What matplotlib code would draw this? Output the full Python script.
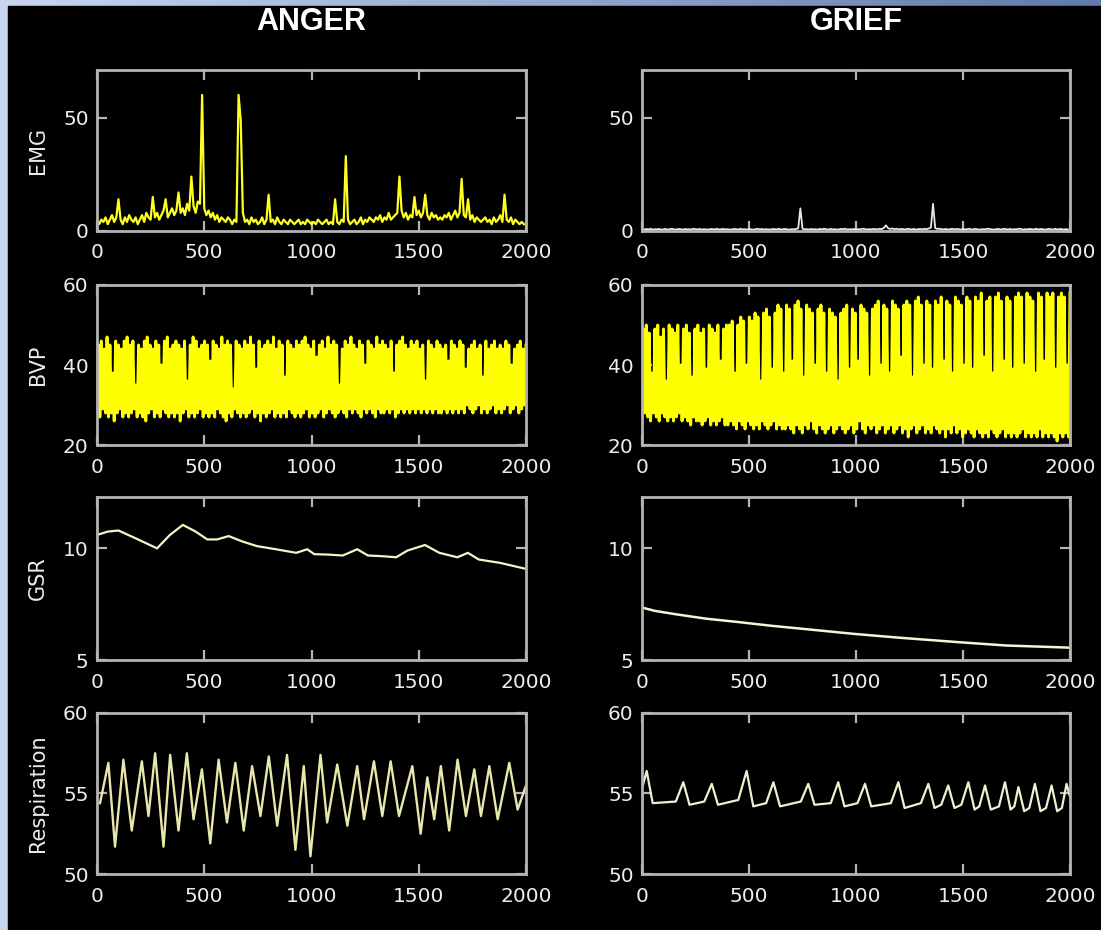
import numpy as np
import matplotlib
matplotlib.use('Agg')
import matplotlib.pyplot as plt
from matplotlib.patches import Rectangle

# ---------------- data ----------------
titles = ['ANGER', 'GRIEF']
signal_names = ['EMG', 'BVP', 'GSR', 'Respiration']
x_ticks = [0, 500, 1000, 1500, 2000]
y_limits = [(0, 71), (20, 60), (5, 12.3), (50, 60)]
y_ticks = [[0, 50], [20, 40, 60], [5, 10], [50, 55, 60]]

emg_step = 10
emg_anger = [4, 3, 5, 4, 6, 3, 5, 7, 4, 6, 14, 5, 3, 6, 4, 7, 5, 4, 6, 3,
             5, 7, 4, 8, 6, 5, 15, 6, 8, 5, 7, 9, 14, 6, 8, 10, 7, 9, 17, 8,
             10, 7, 12, 9, 24, 11, 8, 13, 12, 60, 10, 7, 9, 6, 8, 5, 7, 4, 6, 5,
             4, 6, 5, 3, 5, 4, 60, 49, 8, 4, 5, 3, 6, 4, 5, 3, 4, 6, 3, 5,
             16, 4, 5, 3, 6, 4, 3, 5, 4, 3, 5, 4, 3, 4, 5, 3, 4, 3, 5, 4,
             3, 4, 3, 5, 4, 3, 4, 5, 3, 4, 3, 14, 4, 3, 5, 4, 33, 5, 3, 4,
             5, 3, 4, 6, 3, 5, 4, 6, 5, 4, 6, 5, 7, 4, 6, 5, 8, 5, 6, 7,
             8, 24, 9, 6, 8, 5, 7, 6, 15, 7, 9, 6, 8, 16, 7, 5, 8, 6, 7, 5,
             6, 5, 7, 6, 8, 5, 7, 9, 6, 8, 23, 7, 6, 14, 5, 7, 4, 6, 5, 4,
             5, 6, 4, 5, 3, 6, 4, 5, 7, 4, 16, 5, 4, 6, 3, 5, 4, 3, 4, 3]
emg_grief = [0.8, 0.6, 0.9, 0.7, 1.0, 0.6, 0.8, 0.7, 0.9, 0.6,
             0.7, 0.9, 0.6, 0.8, 1.0, 0.7, 0.6, 0.9, 0.8, 0.6,
             0.9, 0.7, 0.8, 0.6, 1.0, 0.8, 0.7, 0.9, 0.6, 0.8,
             0.7, 0.6, 0.9, 0.8, 0.7, 1.0, 0.6, 0.8, 0.9, 0.7,
             0.8, 0.6, 0.7, 0.9, 0.8, 0.6, 1.0, 0.7, 0.8, 0.6,
             0.9, 0.7, 0.6, 0.8, 1.0, 0.7, 0.9, 0.6, 0.8, 0.7,
             0.6, 0.9, 0.8, 0.7, 1.0, 0.6, 0.8, 0.9, 0.7, 0.6,
             0.8, 0.7, 0.9, 1.2, 10.0, 1.0, 0.7, 0.8, 0.6, 0.9,
             0.7, 0.8, 0.6, 0.9, 0.7, 1.0, 0.8, 0.6, 0.9, 0.7,
             0.8, 0.6, 0.7, 0.9, 0.8, 1.0, 0.6, 0.8, 0.7, 0.9,
             0.6, 0.8, 0.7, 1.0, 0.9, 0.6, 0.8, 0.7, 0.9, 0.8,
             0.7, 1.0, 0.8, 1.4, 2.5, 1.2, 0.9, 1.1, 0.8, 1.0,
             0.7, 0.9, 0.8, 0.6, 1.0, 0.8, 0.7, 0.9, 0.6, 0.8,
             0.9, 0.7, 1.0, 0.8, 1.1, 1.5, 12.0, 1.3, 0.9, 1.0,
             0.8, 0.7, 0.9, 0.6, 0.8, 1.0, 0.7, 0.9, 0.8, 0.6,
             0.9, 0.7, 0.8, 1.0, 0.6, 0.8, 0.9, 0.7, 0.6, 0.8,
             0.7, 0.9, 1.0, 0.8, 0.6, 0.7, 0.9, 0.8, 0.6, 1.0,
             0.8, 0.7, 0.9, 0.6, 0.8, 0.7, 1.0, 0.9, 0.6, 0.8,
             0.7, 0.9, 0.8, 0.6, 1.0, 0.7, 0.8, 0.9, 0.6, 0.7,
             0.9, 0.8, 0.6, 1.0, 0.7, 0.8, 0.9, 0.6, 0.8, 0.7]

bvp_anger_peaks = [45, 46, 44, 47, 45, 38, 46, 45, 44, 46,
                   47, 45, 46, 35, 45, 44, 46, 47, 45, 44,
                   46, 45, 40, 46, 47, 44, 45, 46, 45, 44,
                   46, 36, 45, 47, 46, 44, 45, 46, 45, 41,
                   46, 45, 44, 47, 45, 46, 45, 34, 46, 45,
                   44, 46, 45, 47, 45, 39, 46, 44, 45, 46,
                   45, 47, 44, 46, 45, 37, 46, 45, 44, 46,
                   45, 46, 47, 45, 44, 46, 42, 45, 46, 44,
                   47, 45, 46, 45, 35, 44, 46, 45, 47, 45,
                   44, 46, 45, 40, 46, 45, 44, 47, 45, 46,
                   45, 44, 46, 38, 45, 46, 47, 45, 44, 46,
                   45, 46, 44, 45, 36, 46, 45, 44, 46, 45,
                   44, 45, 41, 46, 45, 44, 46, 45, 39, 44,
                   45, 46, 44, 45, 37, 46, 44, 45, 46, 44,
                   45, 44, 46, 45, 40, 44, 45, 46, 44, 45]
bvp_anger_troughs = [28, 27, 29, 28, 27, 28, 26, 28, 29, 27,
                     28, 27, 28, 29, 27, 28, 27, 26, 28, 29,
                     27, 28, 27, 29, 28, 27, 28, 27, 28, 26,
                     28, 29, 27, 28, 27, 28, 29, 27, 28, 27,
                     28, 27, 29, 28, 27, 26, 28, 27, 29, 28,
                     27, 28, 27, 28, 29, 27, 28, 26, 28, 27,
                     28, 29, 27, 28, 27, 28, 27, 29, 28, 27,
                     28, 27, 28, 29, 27, 28, 27, 28, 29, 27,
                     28, 29, 28, 27, 28, 29, 28, 27, 29, 28,
                     29, 28, 27, 29, 28, 29, 28, 27, 29, 28,
                     28, 29, 28, 29, 27, 28, 29, 28, 29, 28,
                     29, 28, 29, 28, 29, 28, 29, 28, 29, 28,
                     28, 29, 28, 29, 28, 29, 28, 29, 28, 30,
                     29, 28, 29, 30, 28, 29, 28, 29, 30, 28,
                     29, 28, 29, 30, 28, 29, 30, 28, 29, 30]
bvp_grief_peaks = [49, 50, 48, 38, 49, 50, 47, 49, 36, 50,
                   49, 48, 50, 40, 49, 50, 48, 37, 49, 50,
                   48, 49, 39, 50, 49, 48, 50, 41, 49, 50,
                   50, 51, 38, 50, 52, 51, 40, 52, 51, 53,
                   52, 36, 53, 54, 52, 39, 53, 55, 54, 38,
                   55, 54, 41, 55, 56, 54, 37, 55, 54, 53,
                   40, 54, 55, 53, 38, 54, 53, 52, 36, 53,
                   54, 55, 39, 54, 53, 41, 55, 54, 53, 37,
                   54, 55, 56, 40, 55, 54, 38, 56, 55, 54,
                   42, 55, 56, 55, 37, 56, 57, 55, 40, 56,
                   55, 39, 56, 55, 57, 41, 56, 55, 38, 57,
                   56, 55, 40, 57, 56, 39, 57, 56, 58, 42,
                   56, 57, 38, 57, 58, 56, 41, 57, 56, 39,
                   57, 58, 57, 40, 58, 57, 56, 38, 58, 57,
                   41, 58, 57, 58, 39, 57, 58, 57, 40, 58]
bvp_grief_troughs = [27, 28, 27, 26, 28, 27, 26, 28, 27, 26,
                     27, 26, 27, 28, 26, 27, 26, 25, 27, 26,
                     26, 25, 26, 27, 25, 26, 25, 26, 27, 25,
                     25, 26, 25, 24, 26, 25, 24, 26, 25, 24,
                     25, 24, 26, 25, 24, 25, 26, 24, 25, 24,
                     24, 25, 24, 23, 25, 24, 23, 25, 24, 26,
                     24, 23, 25, 24, 23, 24, 25, 23, 24, 25,
                     24, 23, 24, 25, 23, 24, 26, 24, 23, 25,
                     24, 25, 23, 24, 25, 23, 24, 25, 23, 24,
                     25, 23, 24, 22, 24, 25, 23, 24, 25, 23,
                     24, 23, 25, 24, 23, 24, 22, 24, 23, 25,
                     23, 24, 22, 23, 24, 23, 22, 24, 23, 22,
                     23, 22, 24, 23, 22, 23, 24, 22, 23, 22,
                     23, 22, 23, 24, 22, 23, 22, 23, 22, 24,
                     22, 23, 22, 23, 22, 21, 23, 22, 23, 22]

gsr_anger_x = [0, 50, 100, 180, 280, 340, 400, 460, 514, 560, 614, 680, 746, 840,
               929, 980, 1013, 1080, 1146, 1213, 1263, 1330, 1395, 1447, 1529,
               1596, 1680, 1729, 1780, 1879, 2000]
gsr_anger_y = [10.6, 10.75, 10.8, 10.45, 10.0, 10.6, 11.05, 10.75, 10.4, 10.4,
               10.55, 10.3, 10.1, 9.95, 9.8, 9.96, 9.74, 9.72, 9.68, 9.96, 9.68,
               9.65, 9.6, 9.9, 10.15, 9.8, 9.6, 9.8, 9.5, 9.35, 9.08]
gsr_grief_x = [0, 60, 157, 300, 450, 607, 800, 990, 1200, 1477, 1700, 1977, 2000]
gsr_grief_y = [7.35, 7.2, 7.05, 6.85, 6.7, 6.53, 6.35, 6.17, 6.0, 5.8, 5.65, 5.56, 5.55]

resp_anger_x = [14, 53, 84, 123, 162, 209, 240, 271, 310, 341, 380, 419, 450, 489,
                528, 567, 606, 645, 684, 723, 762, 801, 840, 886, 925, 964, 995,
                1042, 1073, 1120, 1167, 1213, 1245, 1291, 1330, 1369, 1408, 1470,
                1509, 1540, 1572, 1603, 1642, 1681, 1720, 1759, 1790, 1829, 1868,
                1922, 1961, 2000]
resp_anger_y = [54.4, 56.9, 51.7, 57.1, 52.7, 57.0, 53.6, 57.5, 51.7, 57.4, 52.7,
                57.5, 53.4, 56.5, 51.9, 57.1, 53.2, 56.9, 52.7, 56.7, 53.6, 57.3,
                53.0, 57.4, 51.5, 56.7, 51.1, 57.4, 53.2, 56.8, 53.0, 56.7, 53.4,
                57.0, 53.6, 57.0, 53.6, 56.7, 52.5, 56.0, 53.4, 56.7, 52.7, 57.1,
                53.6, 56.5, 53.6, 56.7, 53.4, 56.9, 54.0, 55.5]
resp_grief_x = [0, 22, 50, 158, 193, 222, 291, 326, 355, 450, 489, 520, 580, 614,
                645, 742, 777, 806, 882, 917, 946, 1007, 1042, 1071, 1163, 1198,
                1227, 1303, 1338, 1367, 1398, 1431, 1460, 1492, 1525, 1554, 1576,
                1603, 1630, 1668, 1696, 1722, 1740, 1759, 1786, 1810, 1836, 1862,
                1888, 1914, 1940, 1962, 1984, 2000]
resp_grief_y = [55.3, 56.4, 54.4, 54.5, 55.7, 54.3, 54.5, 55.6, 54.3, 54.6, 56.4,
                54.2, 54.4, 55.7, 54.2, 54.5, 55.6, 54.3, 54.4, 55.7, 54.2, 54.4,
                55.6, 54.2, 54.4, 55.7, 54.1, 54.4, 55.6, 54.1, 54.3, 55.5, 54.1,
                54.3, 55.7, 54.0, 54.2, 55.5, 54.0, 54.2, 55.7, 54.0, 54.2, 55.4,
                53.9, 54.1, 55.6, 53.9, 54.1, 55.5, 53.9, 54.1, 55.6, 54.8]

# ---------------- helpers ----------------
def bvp_series(troughs, peaks):
    n = len(peaks)
    y = np.empty(2 * n)
    y[0::2] = troughs
    y[1::2] = peaks
    x = np.linspace(0, 2000, 2 * n)
    return x, y

emg_x = np.arange(len(emg_anger)) * emg_step

series = [
    [(emg_x, emg_anger, '#ffff20', 1.6), (emg_x, emg_grief, '#e8e8e8', 1.3)],
    [bvp_series(bvp_anger_troughs, bvp_anger_peaks) + ('#ffff00', 2.1),
     bvp_series(bvp_grief_troughs, bvp_grief_peaks) + ('#ffff00', 2.1)],
    [(gsr_anger_x, gsr_anger_y, '#f4f4c4', 1.6), (gsr_grief_x, gsr_grief_y, '#f4f4d8', 1.8)],
    [(resp_anger_x, resp_anger_y, '#e8e8ac', 1.7), (resp_grief_x, resp_grief_y, '#f0f0d0', 1.6)],
]

# ---------------- figure ----------------
W, H = 1101, 930
fig = plt.figure(figsize=(W / 100, H / 100), dpi=100)
fig.patch.set_facecolor('black')

bg = fig.add_axes([0, 0, 1, 1], zorder=-10)
grad = np.zeros((2, 256, 3))
c0 = np.array([200, 214, 240]) / 255
c1 = np.array([96, 122, 172]) / 255
for i in range(256):
    t = i / 255
    grad[:, i, :] = c0 * (1 - t) + c1 * t
bg.imshow(grad, extent=[0, 1, 0, 1], aspect='auto')
bg.add_patch(Rectangle((8 / W, 0), 1, 1 - 6 / H, color='black', transform=bg.transAxes))
bg.set_xlim(0, 1)
bg.set_ylim(0, 1)
bg.axis('off')

col_left = [97 / W, 642 / W]
col_w = [429 / W, 428 / W]
row_tb = [(70, 231), (285, 445), (497, 660), (713, 874)]

spine_col = '#b4b4b4'
text_col = '#ececec'

for r in range(4):
    top, bot = row_tb[r]
    for c in range(2):
        ax = fig.add_axes([col_left[c], 1 - bot / H, col_w[c], (bot - top) / H])
        ax.set_facecolor('none')
        x, y, colr, lw = series[r][c]
        ax.plot(x, y, color=colr, lw=lw, solid_joinstyle='round')
        ax.set_xlim(0, 2000)
        ax.set_ylim(*y_limits[r])
        ax.set_xticks(x_ticks)
        ax.set_yticks(y_ticks[r])
        ax.set_xticklabels([str(v) for v in x_ticks])
        ax.set_yticklabels([str(v) for v in y_ticks[r]])
        for s in ax.spines.values():
            s.set_color(spine_col)
            s.set_linewidth(2.0)
        ax.tick_params(direction='in', length=7, width=1.6, colors=spine_col,
                       top=True, right=True, labelcolor=text_col, labelsize=14.5)
        ax.tick_params(axis='x', pad=9)
        ax.tick_params(axis='y', pad=6)
        for lab in ax.get_xticklabels() + ax.get_yticklabels():
            lab.set_family('DejaVu Sans')
        if c == 0:
            fig.text(38 / W, 1 - (top + bot) / 2 / H, signal_names[r], rotation=90,
                     ha='center', va='center', color=text_col, fontsize=15,
                     family='DejaVu Sans')

for c in range(2):
    fig.text(col_left[c] + col_w[c] / 2, 1 - 22 / H, titles[c], ha='center', va='center',
             color='white', fontsize=22, fontweight='bold', family='Liberation Sans')

fig.savefig('out.png', dpi=100, facecolor=fig.get_facecolor())
